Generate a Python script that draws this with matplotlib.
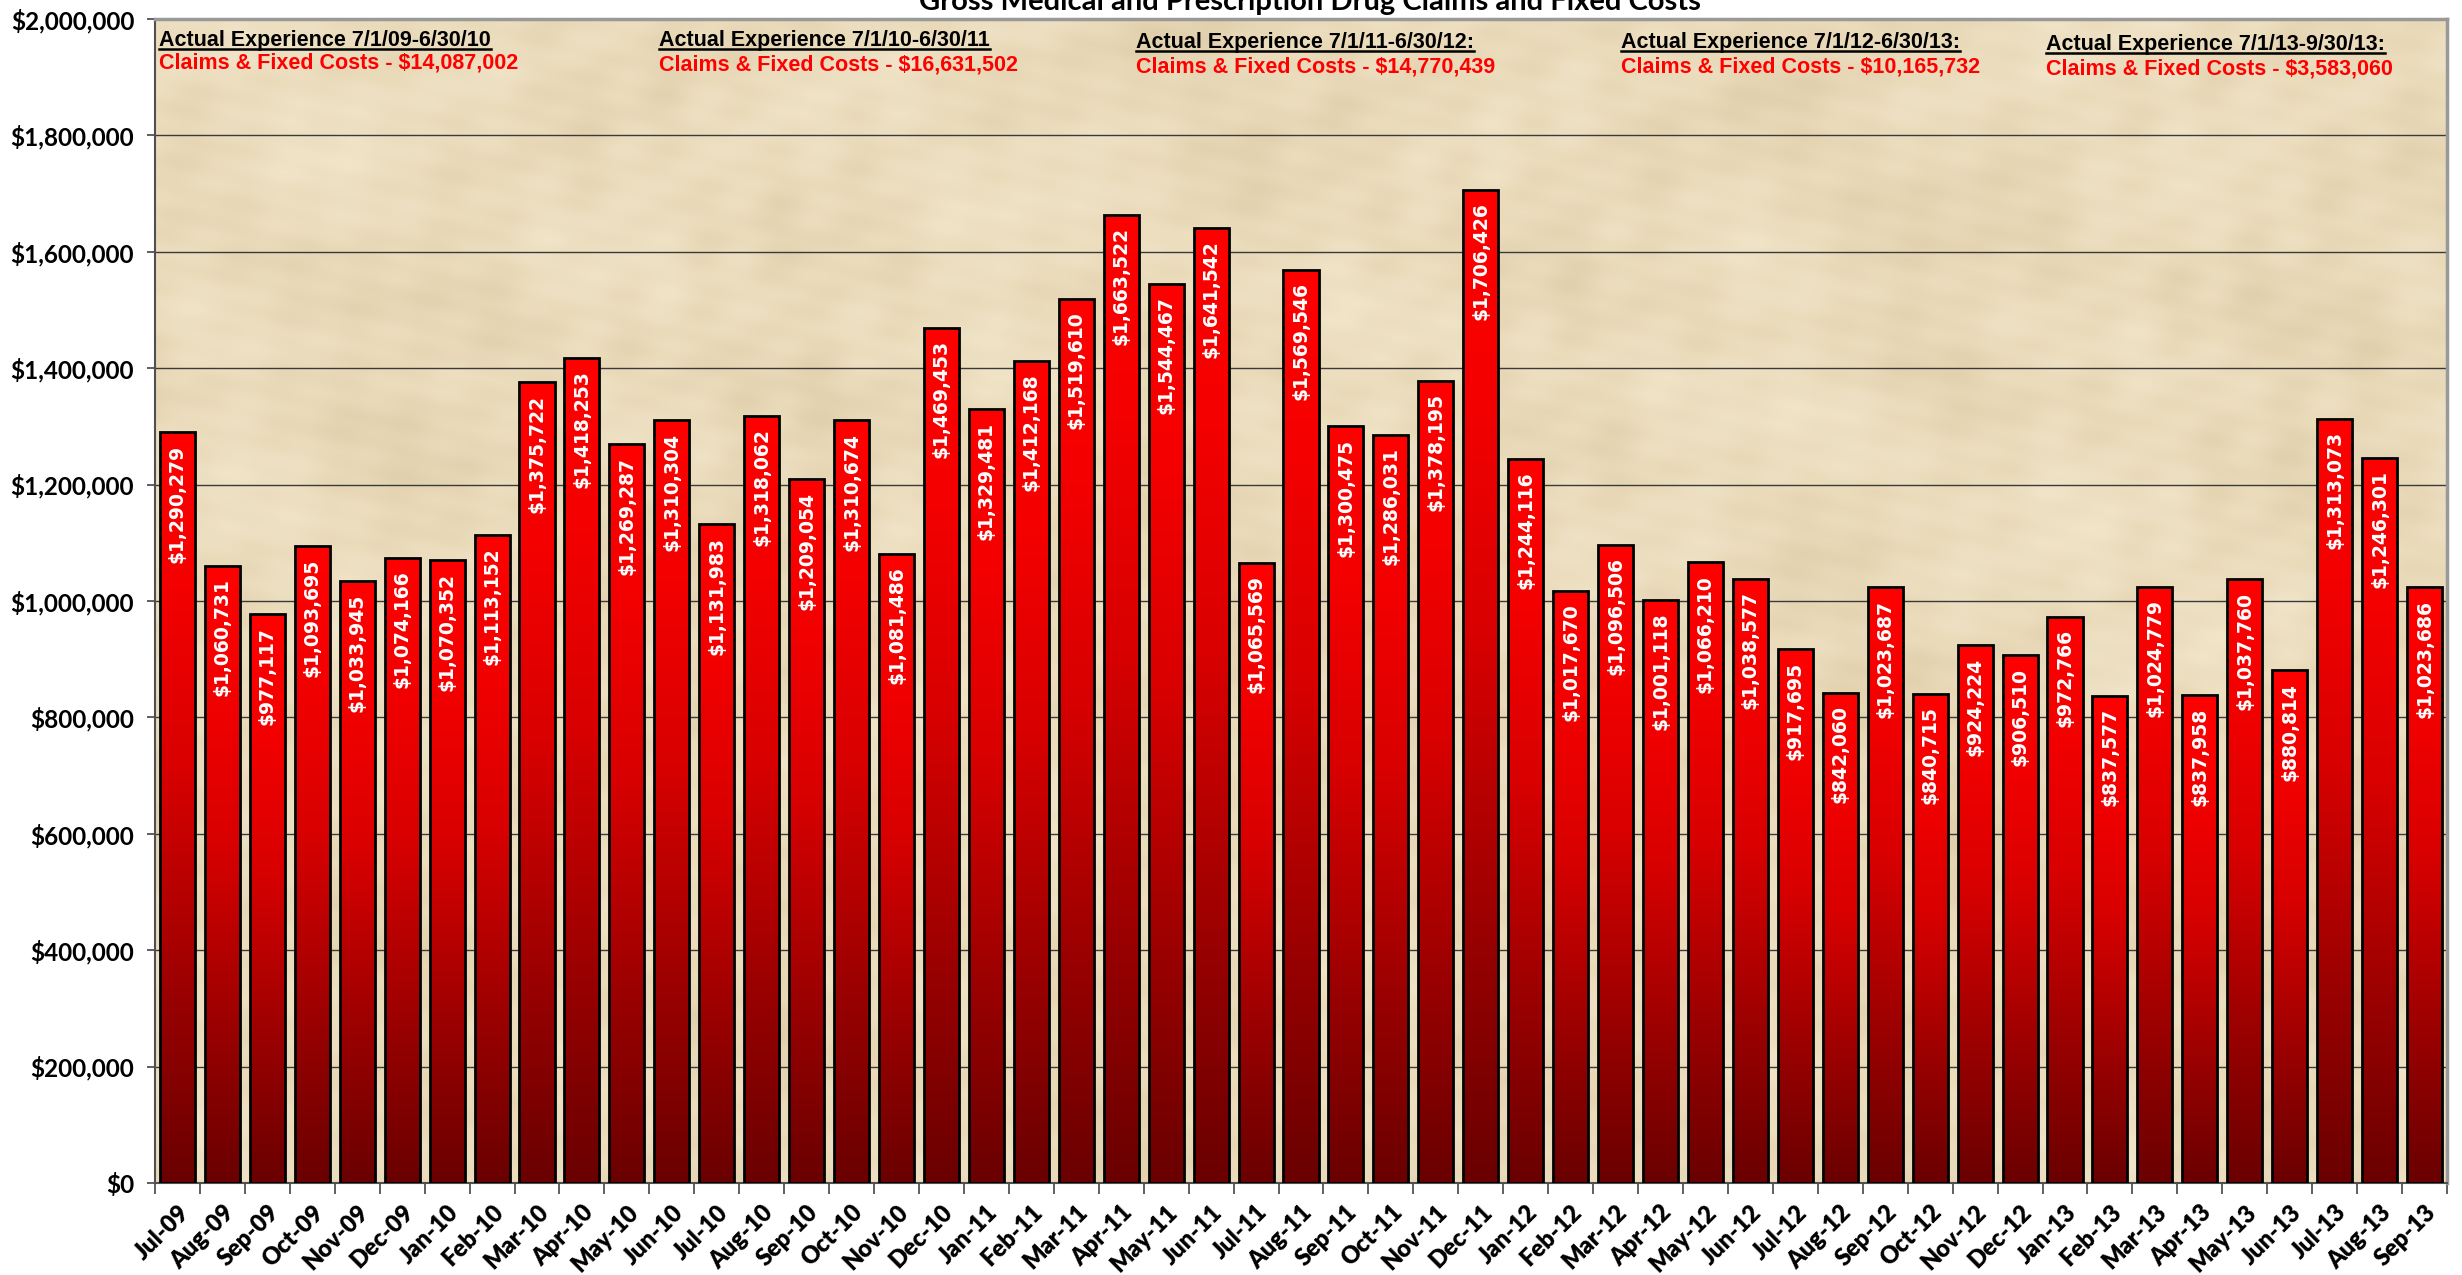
import matplotlib
matplotlib.use("Agg")
import matplotlib.pyplot as plt
import numpy as np
from matplotlib.colors import LinearSegmentedColormap
from matplotlib.lines import Line2D
from matplotlib.ticker import FuncFormatter, MultipleLocator, FixedLocator

# ---------------- data ----------------
months = ["Jul-09", "Aug-09", "Sep-09", "Oct-09", "Nov-09", "Dec-09", "Jan-10", "Feb-10",
          "Mar-10", "Apr-10", "May-10", "Jun-10", "Jul-10", "Aug-10", "Sep-10", "Oct-10",
          "Nov-10", "Dec-10", "Jan-11", "Feb-11", "Mar-11", "Apr-11", "May-11", "Jun-11",
          "Jul-11", "Aug-11", "Sep-11", "Oct-11", "Nov-11", "Dec-11", "Jan-12", "Feb-12",
          "Mar-12", "Apr-12", "May-12", "Jun-12", "Jul-12", "Aug-12", "Sep-12", "Oct-12",
          "Nov-12", "Dec-12", "Jan-13", "Feb-13", "Mar-13", "Apr-13", "May-13", "Jun-13",
          "Jul-13", "Aug-13", "Sep-13"]
claims = [1290279, 1060731, 977117, 1093695, 1033945, 1074166, 1070352, 1113152,
          1375722, 1418253, 1269287, 1310304, 1131983, 1318062, 1209054, 1310674,
          1081486, 1469453, 1329481, 1412168, 1519610, 1663522, 1544467, 1641542,
          1065569, 1569546, 1300475, 1286031, 1378195, 1706426, 1244116, 1017670,
          1096506, 1001118, 1066210, 1038577, 917695, 842060, 1023687, 840715,
          924224, 906510, 972766, 837577, 1024779, 837958, 1037760, 880814,
          1313073, 1246301, 1023686]
period_titles = ["Actual Experience 7/1/09-6/30/10",
                 "Actual Experience 7/1/10-6/30/11",
                 "Actual Experience 7/1/11-6/30/12:",
                 "Actual Experience 7/1/12-6/30/13:",
                 "Actual Experience 7/1/13-9/30/13:"]
period_totals = ["Claims & Fixed Costs - $14,087,002",
                 "Claims & Fixed Costs - $16,631,502",
                 "Claims & Fixed Costs - $14,770,439",
                 "Claims & Fixed Costs - $10,165,732",
                 "Claims & Fixed Costs - $3,583,060"]
title = "Gross Medical and Prescription Drug Claims and Fixed Costs"

# ---------------- layout ----------------
W, H = 2462, 1275
DPI = 100
fig = plt.figure(figsize=(W / DPI, H / DPI), dpi=DPI, facecolor="white")
L, R, T, B = 155, 2447, 19, 1183
ax = fig.add_axes([L / W, 1 - B / H, (R - L) / W, (B - T) / H])
bg = "#ECDEC0"
ax.set_facecolor(bg)

n = len(claims)
x = np.arange(n)
ax.set_xlim(-0.5, n - 0.5)
ax.set_ylim(0, 2000000)

# parchment-like background (deterministic smooth pattern)
gx, gy = np.meshgrid(np.linspace(0, 1, 800), np.linspace(0, 1, 400))
tex = (np.sin(gx * 31 + np.sin(gy * 11) * 2.5) * np.cos(gy * 23 + gx * 7)
       + 0.7 * np.sin(gx * 97 + gy * 53 + np.cos(gx * 19) * 3) * np.sin(gy * 71 - gx * 13)
       + 0.5 * np.sin(gx * 173 - gy * 131) * np.cos(gy * 149 + gx * 41)
       + 0.3 * np.cos(gx * 7 - gy * 13))
tex = (tex - tex.min()) / (tex.max() - tex.min())
parch = LinearSegmentedColormap.from_list("parch", ["#E0CEAA", "#EADBBB", "#F2E6CB"])
ax.imshow(tex, cmap=parch, extent=[-0.5, n - 0.5, 0, 2000000], aspect="auto",
          zorder=0, interpolation="bicubic")

# gridlines
ax.yaxis.set_major_locator(MultipleLocator(200000))
ax.grid(axis="y", color="#3a3a3a", linewidth=1.0, zorder=1)
ax.set_axisbelow(True)

# bars with gradient
cmap = LinearSegmentedColormap.from_list(
    "redgrad", [(0.0, "#6a0000"), (0.25, "#9a0000"), (0.55, "#d80000"), (0.8, "#f40000"), (1.0, "#ff0000")])
grad = np.linspace(0, 1, 256).reshape(-1, 1)
bars = ax.bar(x, claims, width=0.78, facecolor="none", edgecolor="black", linewidth=2.0, zorder=4)
for b in bars:
    x0, w, h = b.get_x(), b.get_width(), b.get_height()
    im = ax.imshow(grad, cmap=cmap, origin="lower", aspect="auto",
                   extent=[x0, x0 + w, 0, h], zorder=3, interpolation="bilinear")
    im.set_clip_path(b)
ax.set_xlim(-0.5, n - 0.5)
ax.set_ylim(0, 2000000)

# value labels
for xi, v in zip(x, claims):
    ax.annotate(f"${v:,}", xy=(xi, v), xytext=(0, -9), textcoords="offset points",
                rotation=90, ha="center", va="top", color="white",
                fontsize=13.5, family="DejaVu Sans", fontweight="bold", zorder=5)

# axes styling
ax.yaxis.set_major_formatter(FuncFormatter(lambda v, p: f"${int(v):,}"))
ax.tick_params(axis="y", length=6, width=1.2, color="#444444", pad=9)
for lab in ax.get_yticklabels():
    lab.set_fontfamily("Lato")
    lab.set_fontweight("bold")
    lab.set_fontsize(17.5)

ax.set_xticks(x)
ax.set_xticklabels(months, rotation=45, ha="right", rotation_mode="anchor",
                   fontsize=17, fontfamily="Lato", fontweight="heavy")
ax.tick_params(axis="x", which="major", length=0, pad=13)
ax.xaxis.set_minor_locator(FixedLocator(np.arange(-0.5, n, 1.0)))
ax.tick_params(axis="x", which="minor", length=8, width=1.2, color="#444444")

for s in ["left", "bottom"]:
    ax.spines[s].set_color("#505050")
    ax.spines[s].set_linewidth(1.5)
for s in ["top", "right"]:
    ax.spines[s].set_color("#999999")
    ax.spines[s].set_linewidth(2.5)

# title (partly cut off at the top, as in the original)
fig.text(1310 / W, 1 - 10 / H, title, ha="center", va="baseline",
         fontsize=21, fontfamily="Lato", fontweight="bold", color="black")

# period annotations
ann_x = [159, 659, 1136, 1621, 2046]
ann_y1 = [46, 46, 48, 48, 50]
ann_y2 = [69, 70, 73, 72, 74]
fig.canvas.draw()
renderer = fig.canvas.get_renderer()
for tx, y1, y2, t1, t2 in zip(ann_x, ann_y1, ann_y2, period_titles, period_totals):
    a = fig.text(tx / W, 1 - y1 / H, t1, ha="left", va="baseline", fontsize=15.5,
                 fontfamily="Liberation Sans", fontweight="bold", color="black", zorder=10)
    fig.text(tx / W, 1 - y2 / H, t2, ha="left", va="baseline", fontsize=15.5,
             fontfamily="Liberation Sans", fontweight="bold", color="#ff0000", zorder=10)
    bb = a.get_window_extent(renderer)
    uy = 1 - (y1 + 2.5) / H
    fig.add_artist(Line2D([bb.x0 / W, bb.x1 / W], [uy, uy], color="black", linewidth=1.8,
                          transform=fig.transFigure, zorder=10))

fig.savefig("out.png", dpi=DPI, facecolor="white")
